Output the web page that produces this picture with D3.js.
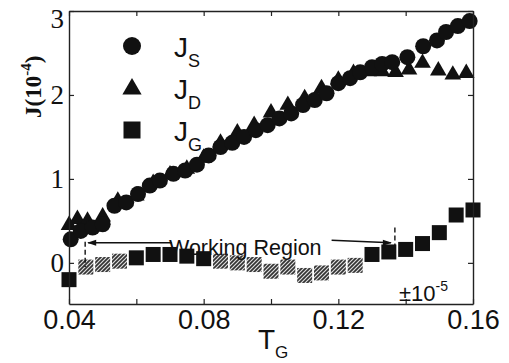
<!DOCTYPE html>
<html>
<head>
<meta charset="utf-8">
<script src="https://cdn.jsdelivr.net/npm/d3@7"></script>
<style>
  body { margin: 0; background: #fff; }
  svg { display: block; }
</style>
</head>
<body>
<div id="chart"></div>
<script>
// data (J in units of 1e-4)
const tgS = [0.0405, 0.0435, 0.047, 0.050, 0.0535, 0.057, 0.0605, 0.064, 0.067, 0.071,
  0.0745, 0.078, 0.0815, 0.085, 0.0885, 0.092, 0.0955, 0.099, 0.1025, 0.106,
  0.1095, 0.113, 0.1165, 0.120, 0.1235, 0.1265, 0.130, 0.133, 0.136, 0.1405,
  0.1452, 0.1493, 0.152, 0.1555, 0.159];
const jS = [0.28, 0.38, 0.42, 0.46, 0.68, 0.72, 0.82, 0.92, 0.98, 1.06,
  1.10, 1.17, 1.28, 1.38, 1.43, 1.50, 1.58, 1.64, 1.72, 1.78,
  1.88, 1.94, 2.02, 2.14, 2.20, 2.27, 2.33, 2.37, 2.39, 2.45,
  2.58, 2.65, 2.75, 2.82, 2.88];

const tgD = [0.040, 0.0425, 0.0455, 0.050, 0.0545, 0.060, 0.065, 0.070, 0.075, 0.080,
  0.085, 0.090, 0.095, 0.100, 0.105, 0.110, 0.115, 0.120, 0.1245, 0.129,
  0.133, 0.137, 0.141, 0.145, 0.1497, 0.154, 0.158];
const jD = [0.45, 0.52, 0.50, 0.55, 0.74, 0.80, 0.95, 1.05, 1.12, 1.25,
  1.43, 1.55, 1.64, 1.79, 1.88, 1.96, 2.08, 2.18, 2.26, 2.28,
  2.28, 2.27, 2.30, 2.38, 2.29, 2.24, 2.26];

const tgG = [0.040, 0.045, 0.050, 0.055, 0.060, 0.065, 0.070, 0.075, 0.080, 0.085,
  0.090, 0.095, 0.100, 0.105, 0.110, 0.115, 0.120, 0.125, 0.130, 0.135,
  0.140, 0.145, 0.150, 0.155, 0.160];
const jG = [-0.20, -0.05, -0.02, 0.02, 0.06, 0.10, 0.10, 0.08, 0.05, 0.02,
  0.00, -0.02, -0.10, -0.05, -0.15, -0.12, -0.05, -0.03, 0.10, 0.13,
  0.16, 0.23, 0.36, 0.57, 0.63];

const xTicks = [0.04, 0.06, 0.08, 0.10, 0.12, 0.14, 0.16];
const xLabels = [0.04, 0.08, 0.12, 0.16];
const yTicks = [0, 1, 2, 3];
const workRegion = [0.0448, 0.1368];

const width = 509, height = 363;
const margin = { top: 11, right: 36, bottom: 59, left: 69 };

const svg = d3.select("#chart").append("svg")
  .attr("width", width).attr("height", height)
  .attr("viewBox", [0, 0, width, height]);

const x = d3.scaleLinear().domain([0.04, 0.16]).range([margin.left, width - margin.right]);
const y = d3.scaleLinear().domain([-0.49, 3]).range([height - margin.bottom, margin.top]);

// hatch for the gate-current band
const defs = svg.append("defs");
const pat = defs.append("pattern")
  .attr("id", "hatch").attr("patternUnits", "userSpaceOnUse")
  .attr("width", 4).attr("height", 4);
pat.append("rect").attr("width", 4).attr("height", 4).attr("fill", "#333");
pat.append("path").attr("d", "M-1,1 l2,-2 M0,4 l4,-4 M3,5 l2,-2")
  .attr("stroke", "#ddd").attr("stroke-width", 1.2);

const sans = "'Liberation Sans', Arial, sans-serif";
const serif = "'Liberation Serif', 'Times New Roman', serif";

// markers
const S = tgS.map((t, i) => ({ t, v: jS[i] }));
const D = tgD.map((t, i) => ({ t, v: jD[i] }));
const G = tgG.map((t, i) => ({ t, v: jG[i] }));

svg.append("g").selectAll("rect").data(G).join("rect")
  .attr("x", d => x(d.t) - 7.5).attr("y", d => y(d.v) - 7.5)
  .attr("width", 15).attr("height", 15)
  .attr("fill", d => (d.t > workRegion[0] && d.t < workRegion[1] - 0.01 && d.v < 0.05) ? "url(#hatch)" : "#111");

const tri = d3.symbol().type(d3.symbolTriangle).size(120);
svg.append("g").selectAll("path").data(D).join("path")
  .attr("d", tri)
  .attr("transform", d => `translate(${x(d.t)},${y(d.v)})`)
  .attr("fill", "#111");

svg.append("g").selectAll("circle").data(S).join("circle")
  .attr("cx", d => x(d.t)).attr("cy", d => y(d.v)).attr("r", 8)
  .attr("fill", "#111");

// frame and axes, ticks pointing inward
const axisStyle = g => {
  g.select(".domain").attr("stroke", "#222").attr("stroke-width", 1.4);
  g.selectAll(".tick line").attr("stroke", "#222").attr("stroke-width", 1.2);
};

svg.append("g")
  .attr("transform", `translate(0,${height - margin.bottom})`)
  .call(d3.axisBottom(x).tickValues(xTicks).tickSizeInner(-5).tickSizeOuter(0).tickPadding(6)
    .tickFormat(d => xLabels.some(v => Math.abs(v - d) < 1e-9) ? d3.format(".2f")(d) : ""))
  .call(axisStyle)
  .call(g => g.selectAll(".tick text").attr("font-family", sans).attr("font-size", 27).attr("fill", "#111"));

svg.append("g")
  .attr("transform", `translate(0,${margin.top})`)
  .call(d3.axisTop(x).tickValues(xTicks).tickSizeInner(-5).tickSizeOuter(0).tickFormat(""))
  .call(axisStyle);

svg.append("g")
  .attr("transform", `translate(${margin.left},0)`)
  .call(d3.axisLeft(y).tickValues(yTicks).tickSizeInner(-5).tickSizeOuter(0).tickPadding(5)
    .tickFormat(d3.format("d")))
  .call(axisStyle)
  .call(g => g.selectAll(".tick text").attr("font-family", serif).attr("font-size", 27).attr("fill", "#111")
    .attr("dy", d => d === 3 ? "0.6em" : "0.32em"));

svg.append("g")
  .attr("transform", `translate(${width - margin.right},0)`)
  .call(d3.axisRight(y).tickValues(yTicks).tickSizeInner(-5).tickSizeOuter(0).tickFormat(""))
  .call(axisStyle);

// axis titles
const xt = svg.append("text").attr("x", 258).attr("y", 349)
  .attr("font-family", sans).attr("font-size", 28).attr("fill", "#111");
xt.append("tspan").text("T");
xt.append("tspan").attr("font-size", 17).attr("dy", 9).text("G");

const yt = svg.append("text")
  .attr("transform", "translate(41,118) rotate(-90)")
  .attr("font-family", serif).attr("font-weight", "bold").attr("font-size", 23).attr("fill", "#111");
yt.append("tspan").text("J(10");
yt.append("tspan").attr("font-size", 15).attr("dy", -10).text("-4");
yt.append("tspan").attr("dy", 10).text(")");

// legend
const legend = svg.append("g").attr("transform", "translate(132,0)");
const legendRows = [
  { key: "S", cy: 46 },
  { key: "D", cy: 88 },
  { key: "G", cy: 130 }
];
legendRows.forEach(r => {
  if (r.key === "S") legend.append("circle").attr("cy", r.cy).attr("r", 9).attr("fill", "#111");
  if (r.key === "D") legend.append("path").attr("d", d3.symbol().type(d3.symbolTriangle).size(160))
    .attr("transform", `translate(0,${r.cy + 1})`).attr("fill", "#111");
  if (r.key === "G") legend.append("rect").attr("x", -8.5).attr("y", r.cy - 8.5)
    .attr("width", 17).attr("height", 17).attr("fill", "#111");
  const t = legend.append("text").attr("x", 42).attr("y", r.cy + 11)
    .attr("font-family", sans).attr("font-size", 28).attr("fill", "#111");
  t.append("tspan").text("J");
  t.append("tspan").attr("font-size", 18).attr("dy", 10).text(r.key);
});

// working region annotation
const x0 = x(workRegion[0]), x1 = x(workRegion[1]);
const ann = svg.append("g").attr("stroke", "#111").attr("fill", "none");
ann.append("line").attr("x1", x0).attr("x2", x0).attr("y1", y(0.25)).attr("y2", y(-0.05))
  .attr("stroke-width", 1.4).attr("stroke-dasharray", "5,3");
ann.append("line").attr("x1", x1).attr("x2", x1).attr("y1", y(0.42)).attr("y2", y(0.12))
  .attr("stroke-width", 1.4).attr("stroke-dasharray", "5,3");
ann.append("line").attr("x1", x0 + 3).attr("x2", x(0.0705)).attr("y1", y(0.24)).attr("y2", y(0.24))
  .attr("stroke-width", 1.4);
ann.append("line").attr("x1", x(0.118)).attr("x2", x1 - 4).attr("y1", y(0.27)).attr("y2", y(0.24))
  .attr("stroke-width", 1.4);
ann.append("path").attr("fill", "#111").attr("stroke", "none")
  .attr("d", `M${x0 + 2},${y(0.24)} l9,-3 l0,6 z`);
ann.append("path").attr("fill", "#111").attr("stroke", "none")
  .attr("d", `M${x1 - 3},${y(0.24)} l-9,-3 l0,6 z`);

svg.append("text").attr("x", 169).attr("y", 255)
  .attr("font-family", sans).attr("font-size", 21.5).attr("fill", "#111")
  .text("Working Region");

const pm = svg.append("text").attr("x", 399).attr("y", 301)
  .attr("font-family", sans).attr("font-size", 22).attr("fill", "#111");
pm.append("tspan").text("±10");
pm.append("tspan").attr("font-size", 14).attr("dy", -10).text("-5");
</script>
</body>
</html>
